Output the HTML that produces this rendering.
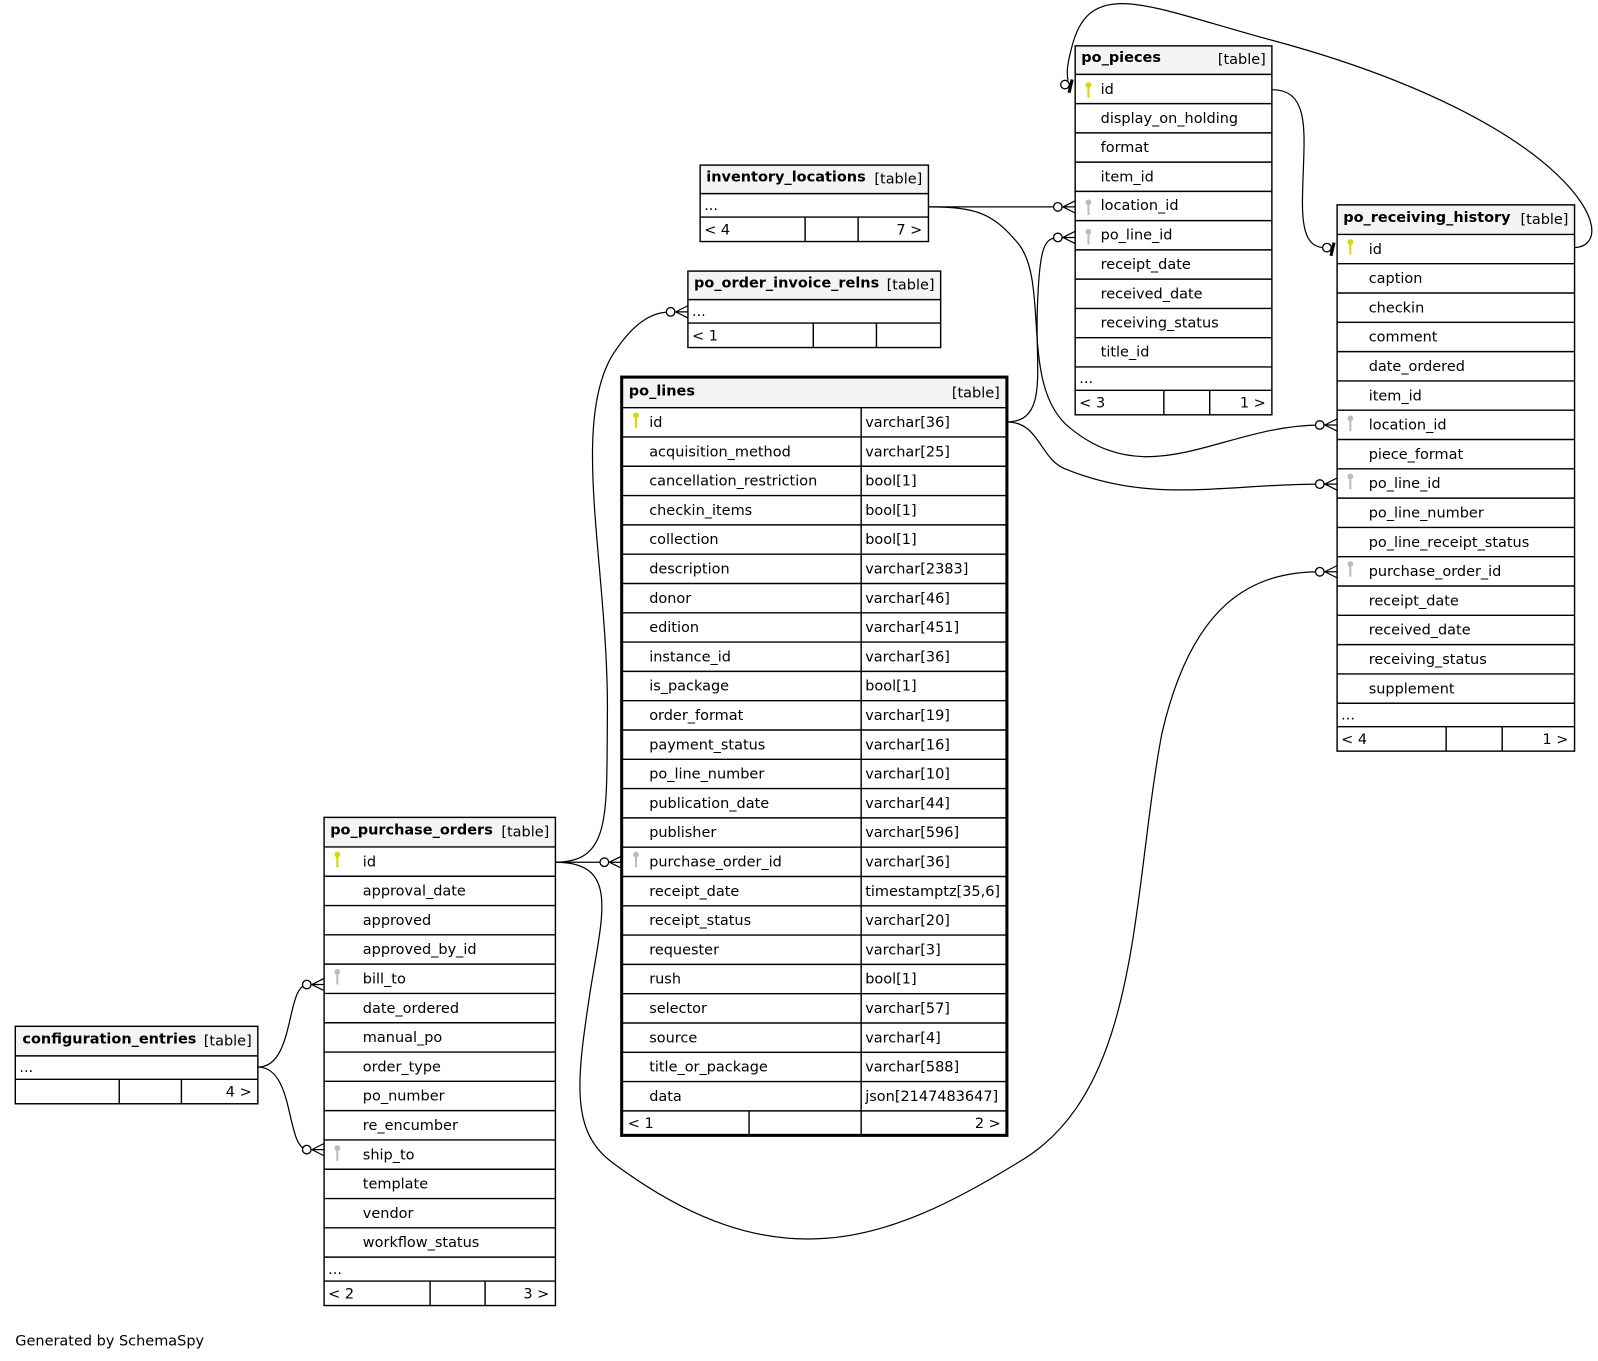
<!DOCTYPE html>
<html><head><meta charset="utf-8"><style>
html,body{margin:0;padding:0;background:#fff;}
svg{display:block;}
text{font-family:"DejaVu Sans","Liberation Sans",sans-serif;font-size:14.2px;fill:#000;}
.b{font-weight:bold;}
.t{fill:none;stroke:#000;stroke-width:1.4;}
.h{fill:#f4f4f4;}
.e{fill:none;stroke:#000;stroke-width:1.2;}
.c{fill:#fff;stroke:#000;stroke-width:1.3;}
.pk{fill:#d6d600;stroke:#d6d600;}
.fk{fill:#bbb;stroke:#bbb;}
</style></head><body>
<svg width="1598" height="1361" viewBox="0 0 1568 1335.4" preserveAspectRatio="none" xmlns="http://www.w3.org/2000/svg">
<defs>
<g id="pkey"><circle cx="0" cy="-3.5" r="2.6" stroke-width="0.5"/><rect x="-1" y="-1" width="2" height="10" stroke-width="0"/></g>
<g id="crow"><circle class="c" cx="-17" cy="0" r="4.2"/><path class="e" d="M-13,0 H0 M-12,0 L0,-6 M-12,0 L0,6" stroke-width="1.8"/></g>
<g id="one"><circle class="c" cx="-10" cy="-3" r="4.2"/><path d="M-3,-8 L-6,5" stroke="#000" stroke-width="3"/></g>
</defs>

<!-- edges -->
<path class="e" d="M1248,88 C1290,88 1278,140 1278,200 C1278,240 1290,243 1302,243"/>
<path class="e" d="M1545,243 C1595,240 1545,120 1250,40 C1130,8 1070,-25 1052,45 C1048,60 1046,70 1048,79"/>
<path class="e" d="M911,203 H1042"/>
<path class="e" d="M911,203 C960,203 975,210 1000,240 C1030,280 1000,380 1050,420 C1130,485 1200,417 1296,417"/>
<path class="e" d="M988,414 C1030,414 1015,360 1018,300 C1020,240 1025,233 1040,233"/>
<path class="e" d="M988,414 C1020,414 1020,450 1045,460 C1130,495 1200,475 1296,475"/>
<path class="e" d="M545,846 H593"/>
<path class="e" d="M545,846 C600,846 595,800 596,700 C597,560 560,420 600,350 C625,310 645,306 659,306"/>
<path class="e" d="M545,846 C610,846 590,900 578,980 C566,1060 560,1110 600,1140 C760,1260 870,1220 1000,1140 C1120,1070 1110,880 1140,720 C1170,590 1230,561 1296,561"/>
<path class="e" d="M253,1047 C290,1047 280,966 302,966"/>
<path class="e" d="M253,1047 C290,1047 280,1128 302,1128"/>
<use href="#one" x="1312" y="246"/>
<use href="#one" x="1055" y="86"/>
<use href="#crow" x="1055" y="203"/>
<use href="#crow" x="1055" y="233"/>
<use href="#crow" x="1312" y="417"/>
<use href="#crow" x="1312" y="475"/>
<use href="#crow" x="1312" y="561"/>
<use href="#crow" x="675" y="306"/>
<use href="#crow" x="610" y="846"/>
<use href="#crow" x="318" y="966"/>
<use href="#crow" x="318" y="1128"/>

<!-- po_pieces -->
<g transform="translate(1055,45)">
<rect class="h" x="0" y="0" width="193" height="28"/>
<rect class="t" x="0" y="0" width="193" height="362"/>
<path class="t" d="M0,28 H193 M0,56.7 H193 M0,85.4 H193 M0,114.1 H193 M0,142.8 H193 M0,171.5 H193 M0,200.2 H193 M0,228.9 H193 M0,257.6 H193 M0,286.3 H193 M0,315 H193 M0,338 H193 M87,338 V362 M132,338 V362"/>
<text x="6" y="16" class="b">po_pieces</text><text x="187" y="18" text-anchor="end">[table]</text>
<use href="#pkey" class="pk" x="13" y="42"/>
<use href="#pkey" class="fk" x="13" y="157"/>
<use href="#pkey" class="fk" x="13" y="186"/>
<text x="25" y="47">id</text>
<text x="25" y="75.5">display_on_holding</text>
<text x="25" y="104">format</text>
<text x="25" y="133">item_id</text>
<text x="25" y="161">location_id</text>
<text x="25" y="190">po_line_id</text>
<text x="25" y="219">receipt_date</text>
<text x="25" y="248">received_date</text>
<text x="25" y="276.5">receiving_status</text>
<text x="25" y="305">title_id</text>
<text x="4" y="331">...</text>
<text x="4" y="355">&lt; 3</text><text x="187" y="355" text-anchor="end">1 &gt;</text>
</g>

<!-- inventory_locations -->
<g transform="translate(687,162)">
<rect class="h" x="0" y="0" width="224" height="28"/>
<rect class="t" x="0" y="0" width="224" height="75"/>
<path class="t" d="M0,28 H224 M0,51 H224 M103,51 V75 M155,51 V75"/>
<text x="6" y="16" class="b">inventory_locations</text><text x="218" y="18" text-anchor="end">[table]</text>
<text x="4" y="44">...</text>
<text x="4" y="68">&lt; 4</text><text x="218" y="68" text-anchor="end">7 &gt;</text>
</g>

<!-- po_order_invoice_relns -->
<g transform="translate(675,266)">
<rect class="h" x="0" y="0" width="248" height="28"/>
<rect class="t" x="0" y="0" width="248" height="75"/>
<path class="t" d="M0,28 H248 M0,51 H248 M123,51 V75 M185,51 V75"/>
<text x="6" y="16" class="b">po_order_invoice_relns</text><text x="242" y="18" text-anchor="end">[table]</text>
<text x="4" y="44">...</text>
<text x="4" y="68">&lt; 1</text>
</g>

<!-- po_lines -->
<g transform="translate(610,370)">
<rect class="h" x="0" y="0" width="378" height="30"/>
<path class="t" d="M0,30 H378 M0,58.75 H378 M0,87.5 H378 M0,116.25 H378 M0,145 H378 M0,173.75 H378 M0,202.5 H378 M0,231.25 H378 M0,260 H378 M0,288.75 H378 M0,317.5 H378 M0,346.25 H378 M0,375 H378 M0,403.75 H378 M0,432.5 H378 M0,461.25 H378 M0,490 H378 M0,518.75 H378 M0,547.5 H378 M0,576.25 H378 M0,605 H378 M0,633.75 H378 M0,662.5 H378 M0,691.25 H378 M0,720 H378 M235,30 V744 M125,720 V744"/>
<rect x="0" y="0" width="378" height="744" fill="none" stroke="#000" stroke-width="3"/>
<text x="7" y="18" class="b">po_lines</text><text x="371" y="20" text-anchor="end">[table]</text>
<use href="#pkey" class="pk" x="14" y="41"/>
<use href="#pkey" class="fk" x="14" y="472"/>
<g transform="translate(27,49)">
<text y="0">id</text><text y="28.75">acquisition_method</text><text y="57.5">cancellation_restriction</text><text y="86.25">checkin_items</text><text y="115">collection</text><text y="143.75">description</text><text y="172.5">donor</text><text y="201.25">edition</text><text y="230">instance_id</text><text y="258.75">is_package</text><text y="287.5">order_format</text><text y="316.25">payment_status</text><text y="345">po_line_number</text><text y="373.75">publication_date</text><text y="402.5">publisher</text><text y="431.25">purchase_order_id</text><text y="460">receipt_date</text><text y="488.75">receipt_status</text><text y="517.5">requester</text><text y="546.25">rush</text><text y="575">selector</text><text y="603.75">source</text><text y="632.5">title_or_package</text><text y="661.25">data</text>
</g>
<g transform="translate(239,49)">
<text y="0">varchar[36]</text><text y="28.75">varchar[25]</text><text y="57.5">bool[1]</text><text y="86.25">bool[1]</text><text y="115">bool[1]</text><text y="143.75">varchar[2383]</text><text y="172.5">varchar[46]</text><text y="201.25">varchar[451]</text><text y="230">varchar[36]</text><text y="258.75">bool[1]</text><text y="287.5">varchar[19]</text><text y="316.25">varchar[16]</text><text y="345">varchar[10]</text><text y="373.75">varchar[44]</text><text y="402.5">varchar[596]</text><text y="431.25">varchar[36]</text><text y="460">timestamptz[35,6]</text><text y="488.75">varchar[20]</text><text y="517.5">varchar[3]</text><text y="546.25">bool[1]</text><text y="575">varchar[57]</text><text y="603.75">varchar[4]</text><text y="632.5">varchar[588]</text><text y="661.25">json[2147483647]</text>
</g>
<text x="6" y="737">&lt; 1</text><text x="372" y="737" text-anchor="end">2 &gt;</text>
</g>

<!-- po_receiving_history -->
<g transform="translate(1312,201)">
<rect class="h" x="0" y="0" width="233" height="29"/>
<rect class="t" x="0" y="0" width="233" height="536"/>
<path class="t" d="M0,29 H233 M0,57.75 H233 M0,86.5 H233 M0,115.25 H233 M0,144 H233 M0,172.75 H233 M0,201.5 H233 M0,230.25 H233 M0,259 H233 M0,287.75 H233 M0,316.5 H233 M0,345.25 H233 M0,374 H233 M0,402.75 H233 M0,431.5 H233 M0,460.25 H233 M0,489 H233 M0,512 H233 M107,512 V536 M162,512 V536"/>
<text x="6" y="17" class="b">po_receiving_history</text><text x="227" y="19" text-anchor="end">[table]</text>
<use href="#pkey" class="pk" x="13" y="40"/>
<use href="#pkey" class="fk" x="13" y="213"/>
<use href="#pkey" class="fk" x="13" y="270"/>
<use href="#pkey" class="fk" x="13" y="356"/>
<g transform="translate(31,48)">
<text y="0">id</text><text y="28.75">caption</text><text y="57.5">checkin</text><text y="86.25">comment</text><text y="115">date_ordered</text><text y="143.75">item_id</text><text y="172.5">location_id</text><text y="201.25">piece_format</text><text y="230">po_line_id</text><text y="258.75">po_line_number</text><text y="287.5">po_line_receipt_status</text><text y="316.25">purchase_order_id</text><text y="345">receipt_date</text><text y="373.75">received_date</text><text y="402.5">receiving_status</text><text y="431.25">supplement</text>
</g>
<text x="4" y="505">...</text>
<text x="4" y="529">&lt; 4</text><text x="227" y="529" text-anchor="end">1 &gt;</text>
</g>

<!-- po_purchase_orders -->
<g transform="translate(318,802)">
<rect class="h" x="0" y="0" width="227" height="29"/>
<rect class="t" x="0" y="0" width="227" height="479"/>
<path class="t" d="M0,29 H227 M0,57.75 H227 M0,86.5 H227 M0,115.25 H227 M0,144 H227 M0,172.75 H227 M0,201.5 H227 M0,230.25 H227 M0,259 H227 M0,287.75 H227 M0,316.5 H227 M0,345.25 H227 M0,374 H227 M0,402.75 H227 M0,431.5 H227 M0,455 H227 M104,455 V479 M158,455 V479"/>
<text x="6" y="17" class="b">po_purchase_orders</text><text x="221" y="19" text-anchor="end">[table]</text>
<use href="#pkey" class="pk" x="13" y="40"/>
<use href="#pkey" class="fk" x="13" y="155"/>
<use href="#pkey" class="fk" x="13" y="328"/>
<g transform="translate(38,48)">
<text y="0">id</text><text y="28.75">approval_date</text><text y="57.5">approved</text><text y="86.25">approved_by_id</text><text y="115">bill_to</text><text y="143.75">date_ordered</text><text y="172.5">manual_po</text><text y="201.25">order_type</text><text y="230">po_number</text><text y="258.75">re_encumber</text><text y="287.5">ship_to</text><text y="316.25">template</text><text y="345">vendor</text><text y="373.75">workflow_status</text>
</g>
<text x="4" y="448">...</text>
<text x="4" y="472">&lt; 2</text><text x="221" y="472" text-anchor="end">3 &gt;</text>
</g>

<!-- configuration_entries -->
<g transform="translate(15,1007)">
<rect class="h" x="0" y="0" width="238" height="29"/>
<rect class="t" x="0" y="0" width="238" height="76"/>
<path class="t" d="M0,29 H238 M0,52 H238 M102,52 V76 M163,52 V76"/>
<text x="7" y="17" class="b">configuration_entries</text><text x="232" y="19" text-anchor="end">[table]</text>
<text x="4" y="45">...</text>
<text x="232" y="69" text-anchor="end">4 &gt;</text>
</g>

<text x="15" y="1320">Generated by SchemaSpy</text>
</svg>
</body></html>
